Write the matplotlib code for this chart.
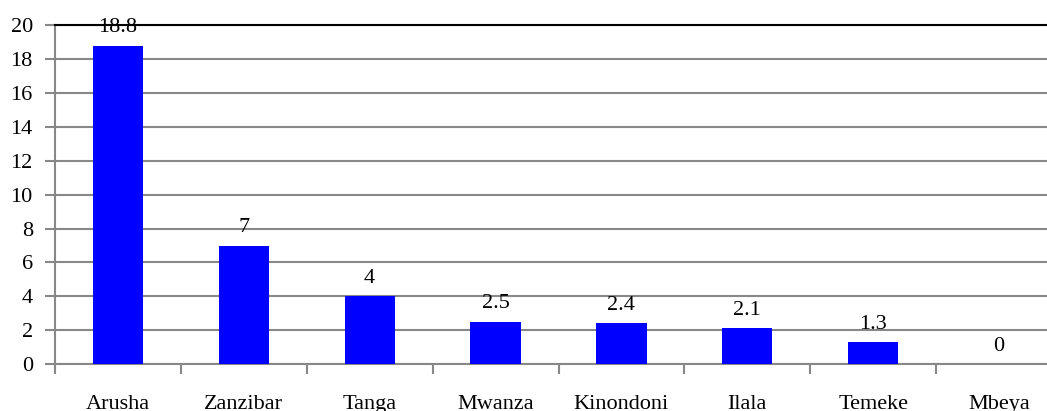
import matplotlib
matplotlib.use("Agg")
import matplotlib.pyplot as plt
import numpy as np

regions = ["Arusha", "Zanzibar", "Tanga", "Mwanza", "Kinondoni", "Ilala", "Temeke", "Mbeya"]
values = [18.8, 7, 4, 2.5, 2.4, 2.1, 1.3, 0]
yticks = [0, 2, 4, 6, 8, 10, 12, 14, 16, 18, 20]

plt.rcParams['font.family'] = ['Liberation Serif', 'DejaVu Serif']
fs = 16

fig = plt.figure(figsize=(10.47, 4.11), dpi=100)
W, H = 1047, 411
ax = fig.add_axes([55 / W, (H - 364) / H, (1062 - 55) / W, (364 - 25.5) / H])

x = np.arange(len(regions))
ax.bar(x, values, width=0.4, color="#0000FF", zorder=3)

for xi, v in zip(x, values):
    label = "%g" % v
    ax.annotate(label, (xi, v), xytext=(0, 6), textcoords="offset points",
                ha="center", va="bottom", fontsize=fs, zorder=4)

ax.set_xlim(-0.5, len(regions) - 0.5)
ax.set_ylim(0, 20)
ax.set_yticks(yticks)
ax.set_yticklabels([str(t) for t in yticks], fontsize=fs)
ax.grid(axis="y", color="#888888", linewidth=1.5, zorder=1)

ax.set_xticks(x)
ax.set_xticklabels(regions, fontsize=fs)
ax.set_xticks(np.arange(len(regions) + 1) - 0.5, minor=True)
ax.tick_params(axis="x", which="major", length=0, pad=22.5)
ax.tick_params(axis="x", which="minor", length=7, width=1.5, color="#888888")
ax.tick_params(axis="y", length=7, width=1.5, color="#888888", pad=9)

for s in ["left", "bottom"]:
    ax.spines[s].set_color("#888888")
    ax.spines[s].set_linewidth(1.5)
ax.spines["right"].set_visible(False)
ax.spines["top"].set_color("black")
ax.spines["top"].set_linewidth(1.5)

fig.savefig("out.png", dpi=100)
